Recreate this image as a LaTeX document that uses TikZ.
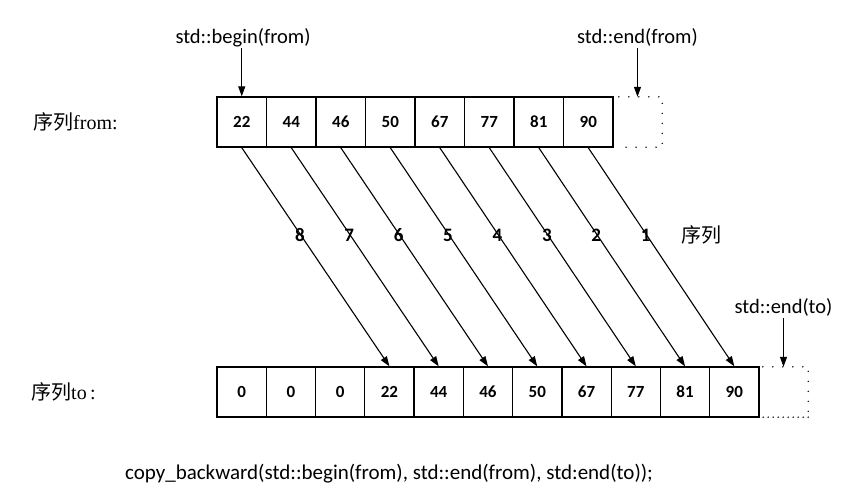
\documentclass[tikz,border=0pt]{standalone}
\usepackage{fontspec}
\setmainfont{Liberation Serif}
\newfontfamily\cjk{Noto Sans CJK SC}
\newfontfamily\calfont{Carlito}
\usetikzlibrary{arrows.meta}
\begin{document}
\begin{tikzpicture}[x=1pt,y=-1pt,
  cell/.style={draw, line width=1.3pt, minimum height=50pt, inner sep=0pt,
    font=\calfont\bfseries\fontsize{17}{17}\selectfont},
  fcell/.style={cell, minimum width=49.5pt},
  tcell/.style={cell, minimum width=49.27pt},
  ghost/.style={inner sep=0pt, minimum height=50pt},
  dots/.style={line width=1.6pt, line cap=round, dash pattern=on 0pt off 10pt},
  densedots/.style={line width=1.6pt, line cap=round, dash pattern=on 0pt off 5pt},
  arr/.style={line width=1.1pt, -{Triangle[length=10pt,width=7pt]}},
  ptr/.style={font=\calfont\fontsize{20.5}{20.5}\selectfont, inner sep=1pt},
  num/.style={font=\calfont\bfseries\fontsize{19}{19}\selectfont, inner sep=0pt},
  lbl/.style={font=\fontsize{20}{20}\selectfont, inner sep=0pt, anchor=west}]
\useasboundingbox (0,0) rectangle (863,496);
% top row
\foreach \v [count=\i] in {22,44,46,50,67,77,81,90}
  \node[fcell] (f\i) at ({217+49.5*(\i-0.5)},122) {\v};
\node[ghost, minimum width=49pt] (fe) at (637.5,122) {};
\draw[dots] (fe.north west) ++(6,0) -- (fe.north east) -- (fe.south east) -- ([xshift=6pt]fe.south west);
% bottom row
\foreach \v [count=\i] in {0,0,0,22,44,46,50,67,77,81,90}
  \node[tcell] (t\i) at ({217+49.27*(\i-0.5)},392) {\v};
\node[ghost, minimum width=49pt] (te) at (783.5,392) {};
\draw[dots] ([xshift=4pt]te.north west) -- (te.north east) -- (te.south east);
\draw[densedots] (te.south east) -- ([xshift=3pt]te.south west);
% labels
\node[lbl] (lf) at (33,122) {{\cjk 序列}from:};
\node[lbl] (lt) at (31,392) {{\cjk 序列}to\,:};
\node[font=\cjk\fontsize{20}{20}\selectfont, inner sep=0pt] (seq) at (701,235) {序列};
% pointers
\node[ptr, anchor=south] (bf) at (243,48) {std::begin(from)};
\node[ptr, anchor=south] (ef) at (637.5,48) {std::end(from)};
\node[ptr, anchor=south] (et) at (783.5,318) {std::end(to)};
\draw[arr] (bf.south -| f1) -- (f1.north);
\draw[arr] (ef.south) -- (fe.north);
\draw[arr] (et.south) -- (te.north);
% copy arrows
\foreach \i in {1,...,8}{
  \pgfmathtruncatemacro{\j}{\i+3}
  \pgfmathtruncatemacro{\k}{9-\i}
  \draw[arr] (f\i.south) -- (t\j.north) node[num, pos=0.4, xshift=-1pt] {\k};
}
% code line
\node[font=\calfont\fontsize{21}{21}\selectfont, inner sep=0pt] (code) at (389,474)
  {copy\_backward(std::begin(from), std::end(from), std:end(to));};
\end{tikzpicture}
\end{document}
